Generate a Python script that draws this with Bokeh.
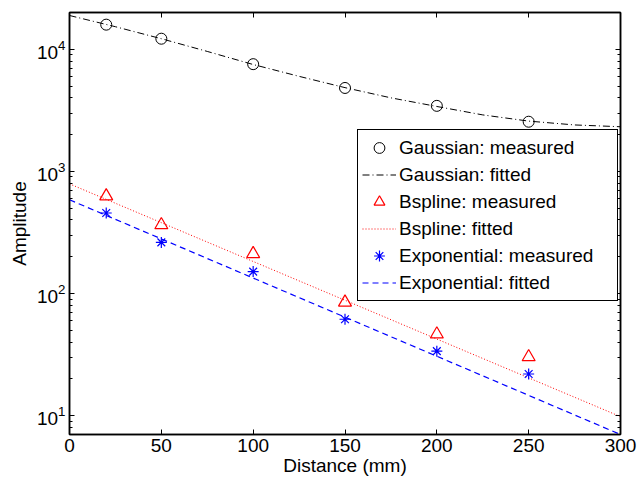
from bokeh.plotting import figure
from bokeh.models import Range1d, LinearAxis, LogAxis, FixedTicker, LogTicker, Legend
from bokeh.embed import file_html
from bokeh.resources import INLINE

# ---- data ----
measured_x = [20, 50, 100, 150, 200, 250]
gauss_measured = [15900, 12200, 7550, 4820, 3440, 2550]
bspline_measured = [627, 364, 211, 84.5, 46.4, 30.2]
expo_measured = [456, 262, 151, 61.5, 33.7, 21.9]

gauss_fit_x = [0, 25, 50, 75, 100, 125, 150, 175, 200, 225, 250, 275, 300]
gauss_fit = [18900, 15300, 12200, 9600, 7500, 6000, 4850, 4000, 3400, 2900, 2580, 2400, 2320]

line_fit_x = [0, 300]
bspline_fit = [790, 9.8]
expo_fit = [585, 7.0]

x_ticks = [0, 50, 100, 150, 200, 250, 300]

FONT = "Liberation Sans"
FS = "19px"

p = figure(width=638, height=481, output_backend="svg", toolbar_location=None,
           y_axis_type="log", x_range=Range1d(0, 300), y_range=Range1d(7, 20000),
           min_border_left=69, min_border_right=18, min_border_top=12, min_border_bottom=47)
p.grid.visible = False
p.outline_line_color = "black"
p.outline_line_width = 1.5
p.background_fill_color = "white"
p.border_fill_color = "white"

# main axes
xa = p.xaxis[0]
xa.ticker = FixedTicker(ticks=x_ticks)
xa.axis_label = "Distance (mm)"
ya = p.yaxis[0]
ya.ticker = LogTicker(num_minor_ticks=10)
ya.axis_label = "Amplitude"
for ax in (xa, ya):
    ax.axis_line_width = 1.5
    ax.major_tick_in = 5
    ax.major_tick_out = 0
    ax.minor_tick_in = 3
    ax.minor_tick_out = 0
    ax.major_label_text_font = FONT
    ax.major_label_text_font_size = FS
    ax.major_label_text_color = "black"
    ax.axis_label_text_font = FONT
    ax.axis_label_text_font_size = FS
    ax.axis_label_text_font_style = "normal"
    ax.axis_label_text_color = "black"
    ax.axis_label_standoff = 0
    ax.major_label_standoff = 4
xa.minor_tick_line_color = None
ya.axis_label_standoff = 4

# mirror axes (top, right) with ticks only
top = LinearAxis(ticker=FixedTicker(ticks=x_ticks))
right = LogAxis(ticker=LogTicker(num_minor_ticks=10))
for ax in (top, right):
    ax.axis_line_width = 1.5
    ax.major_tick_in = 5
    ax.major_tick_out = 0
    ax.minor_tick_in = 3
    ax.minor_tick_out = 0
    ax.major_label_text_font_size = "1px"
    ax.major_label_text_color = None
    ax.major_label_standoff = 0
top.minor_tick_line_color = None
p.add_layout(top, "above")
p.add_layout(right, "right")

# glyphs
r1 = p.scatter(measured_x, gauss_measured, marker="circle", size=11, fill_color=None,
               line_color="black", line_width=1)
r2 = p.line(gauss_fit_x, gauss_fit, line_color="black", line_width=1, line_dash="7 3 1 3")
r3 = p.scatter(measured_x, bspline_measured, marker="triangle", size=13, fill_color=None,
               line_color="#ff0000", line_width=1.2)
r4 = p.line(line_fit_x, bspline_fit, line_color="#ff0000", line_width=1, line_dash="1 2")
r5 = p.scatter(measured_x, expo_measured, marker="asterisk", size=11,
               line_color="#0000ff", line_width=1.2)
r6 = p.line(line_fit_x, expo_fit, line_color="#0000ff", line_width=1.2, line_dash="6 4")

legend = Legend(items=[
    ("Gaussian: measured", [r1]),
    ("Gaussian: fitted", [r2]),
    ("Bspline: measured", [r3]),
    ("Bspline: fitted", [r4]),
    ("Exponential: measured", [r5]),
    ("Exponential: fitted", [r6]),
], location=(288, 133))
legend.margin = 0
legend.padding = 4
legend.spacing = 0
legend.glyph_height = 27
legend.glyph_width = 34
legend.label_height = 20
legend.label_width = 214
legend.label_standoff = 3
legend.label_text_font = FONT
legend.label_text_font_size = FS
legend.label_text_color = "black"
legend.border_line_color = "black"
legend.border_line_width = 1.5
legend.border_line_alpha = 1
legend.background_fill_color = "white"
legend.background_fill_alpha = 1
p.add_layout(legend, "center")

open("out.html", "w").write(file_html(p, INLINE))
